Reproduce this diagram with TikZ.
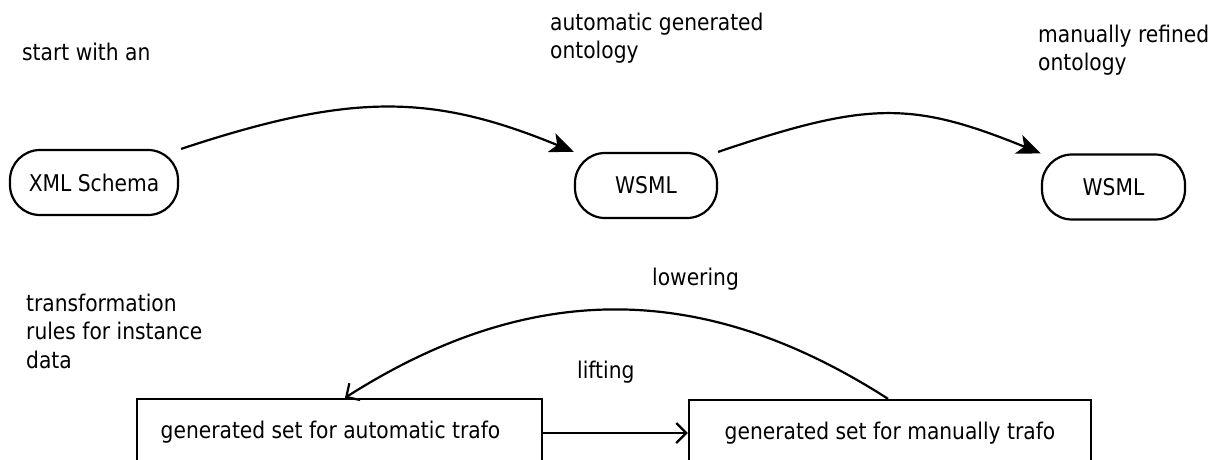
\documentclass[tikz,border=0pt]{standalone}
\usepackage{fontspec}
\setmainfont{DejaVu Sans}[FakeStretch=0.88]
\usetikzlibrary{arrows.meta}
\begin{document}
\begin{tikzpicture}[x=1pt,y=-1pt,
  every node/.style={font=\fontsize{23}{28.5}\selectfont},
  roundbox/.style={draw,line width=2.2pt,rounded corners=30pt,minimum height=65pt,inner sep=0pt},
  setbox/.style={draw,line width=2.4pt,minimum height=66pt,inner sep=0pt},
  txt/.style={inner sep=0pt,align=left},
  bigarrow/.style={line width=2.2pt,-{Stealth[length=24pt,width=20pt,inset=6pt]}},
  openarrow/.style={line width=2.2pt,-{Straight Barb[length=10pt,width=20pt]}}]
\useasboundingbox (0,0) rectangle (1213,459);
% nodes
\node[roundbox,minimum width=168pt] (xml) at (94,182.5) {XML Schema};
\node[roundbox,minimum width=142pt] (w1) at (646,185.5) {WSML};
\node[roundbox,minimum width=143pt] (w2) at (1113.5,187) {WSML};
\node[setbox,minimum width=405pt] (auto) at (339.5,432) {\hspace*{-18pt}generated set for automatic trafo};
\node[setbox,minimum width=402pt] (man) at (890,433) {generated set for manually trafo};
% labels
\node[txt,anchor=west] (start) at (22,52) {start with an};
\node[txt,anchor=north west] (autoont) at (550,12.5) {automatic generated\\ontology};
\node[txt,anchor=north west] (manont) at (1038,24.5) {manually refined\\ontology};
\node[txt,anchor=north west] (rules) at (26,293.5) {transformation\\rules for instance\\data};
\node[txt,anchor=west] (lower) at (652,279) {lowering};
\node[txt,anchor=west] (lift) at (577,372) {lifting};
% connectors
\draw[bigarrow] ([xshift=2pt]xml.north east) .. controls (350,93) and (431,93) .. (w1.north west);
\draw[bigarrow] (w1.north east) .. controls (868,101) and (912,101) .. (w2.north west);
\draw[openarrow] ([xshift=-2pt]man.north) .. controls (703,280) and (530,280) .. ([xshift=5.5pt]auto.north);
\draw[openarrow] ([yshift=-1pt]auto.east) -- ([yshift=-1pt]auto.east -| man.west);
\end{tikzpicture}
\end{document}
